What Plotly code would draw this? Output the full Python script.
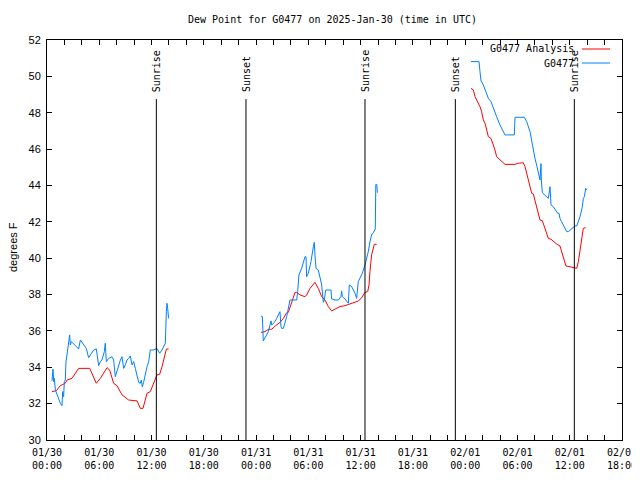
import plotly.graph_objects as go
import pandas as pd

BASE = pd.Timestamp("2025-01-30 00:00")

# Analysis (red): hours since 2025-01-30 00:00 UTC, None = gap
analysis_hours = [
    0.57, 1.07, 1.53, 2.10, 2.30, 2.87, 3.63, 4.90, 5.66, 6.12, 6.89, 7.19, 7.65, 8.03, 8.61, 9.37,
    10.33, 10.71, 11.02, 11.48, 11.86, 12.62, 12.93, 13.20, 13.70, 13.96,
    None,
    24.56, 25.02, 25.41, 25.79, 26.25, 26.74, 27.13, 27.51, 27.70, 28.08, 28.47, 28.66, 29.04, 29.61,
    29.80, 30.19, 30.76, 31.14, 31.53, 31.91, 32.29, 32.67, 33.06, 33.63, 34.20, 34.78, 35.35, 35.73,
    36.12, 36.50, 36.81, 36.96, 37.07, 37.26, 37.57, 37.84,
    None,
    48.67, 48.94, 49.13, 49.32, 49.51, 49.70, 49.89, 50.08, 50.28, 50.47, 50.66, 50.96, 51.23, 51.42,
    51.61, 51.81, 52.19, 52.57, 53.72, 54.10, 54.67, 54.87, 55.06, 55.25, 55.44, 55.63, 55.82, 56.01,
    56.20, 56.40, 56.59, 56.86, 57.08, 57.35, 57.54, 57.85, 58.12, 58.50, 58.88, 59.07, 59.27, 59.57,
    60.03, 60.41, 60.80, 60.99, 61.18, 61.37, 61.56, 61.83,
]
analysis_vals = [
    32.66, 32.71, 32.99, 33.12, 33.30, 33.39, 33.94, 33.94, 33.12, 33.39, 33.98, 33.85, 33.12, 32.99, 32.48, 32.20,
    32.15, 31.74, 31.74, 32.57, 32.66, 33.58, 33.61, 34.03, 35.00, 35.00,
    None,
    35.92, 35.96, 36.09, 36.09, 36.29, 36.47, 36.69, 37.00, 37.02, 37.61, 38.12, 38.12, 37.98, 37.88,
    37.98, 38.34, 38.67, 38.34, 37.88, 37.70, 37.34, 37.10, 37.21, 37.34, 37.39, 37.48, 37.61, 37.64,
    37.83, 38.12, 38.16, 38.53, 39.26, 40.18, 40.76, 40.76,
    None,
    49.34, 49.25, 48.88, 48.70, 48.43, 48.33, 48.06, 47.60, 47.42, 47.05, 46.68, 46.59, 46.23, 45.95,
    45.58, 45.49, 45.35, 45.16, 45.16, 45.22, 45.25, 45.03, 44.67, 44.30, 43.84, 43.57, 43.53, 43.20,
    42.74, 42.38, 42.10, 42.06, 41.73, 41.37, 41.09, 41.04, 40.91, 40.78, 40.67, 40.36, 39.99, 39.57,
    39.53, 39.50, 39.44, 39.81, 40.45, 41.18, 41.64, 41.68,
]

# Observations (blue)
obs_hours = [
    0.57, 0.69, 0.77, 0.84, 0.96, 1.15, 1.34, 1.53, 1.72, 1.80, 1.91, 1.99, 2.10, 2.18, 2.37, 2.49,
    2.60, 2.68, 2.79, 2.98, 3.25, 3.63, 3.83, 4.21, 4.51, 4.78, 4.97, 5.36, 5.66, 5.93, 6.12, 6.31,
    6.58, 6.69, 6.81, 7.08, 7.46, 7.65, 7.84, 8.03, 8.22, 8.42, 8.61, 8.80, 8.99, 9.18, 9.37, 9.56,
    9.76, 9.95, 10.14, 10.33, 10.52, 10.71, 10.83, 10.94, 11.09, 11.48, 11.67, 11.86, 12.24, 12.62,
    12.93, 13.20, 13.58, 13.70, 13.77, 13.85, 13.96,
    None,
    24.56, 24.72, 24.83, 25.02, 25.41, 25.60, 25.71, 25.79, 25.98, 26.17, 26.36, 26.55, 26.74, 26.86,
    26.94, 27.13, 27.51, 27.89, 28.27, 28.66, 28.77, 28.92, 29.23, 29.61, 29.73, 29.80, 29.99, 30.30,
    30.57, 30.68, 30.76, 30.88, 31.14, 31.34, 31.53, 31.72, 31.83, 31.99, 32.29, 32.60, 32.67, 33.06,
    33.44, 33.74, 33.82, 33.90, 34.20, 34.59, 34.70, 34.97, 35.35, 35.54, 35.73, 35.93, 36.19, 36.50,
    36.88, 37.07, 37.26, 37.45, 37.68, 37.74, 37.86, 37.92,
    None,
    48.67, 49.59, 49.70, 49.82, 50.08, 50.28, 50.47, 50.66, 50.96, 51.23, 51.61, 51.99, 52.26, 52.57,
    53.64, 53.72, 54.79, 55.06, 55.44, 55.63, 55.82, 56.01, 56.20, 56.40, 56.47, 56.59, 56.70, 56.74,
    56.86, 57.16, 57.54, 57.74, 57.85, 58.12, 58.39, 58.62, 58.77, 58.88, 59.07, 59.46, 59.65, 59.84,
    60.22, 60.60, 60.80, 61.18, 61.45, 61.56, 61.68, 61.83, 61.94,
]
obs_vals = [
    33.25, 33.90, 33.21, 33.39, 32.75, 32.48, 32.29, 32.02, 31.89, 32.66, 32.38, 33.21, 33.30, 34.31, 34.95, 35.41,
    35.78, 35.23, 35.41, 35.32, 35.19, 35.01, 35.50, 35.23, 35.04, 34.53, 34.68, 34.95, 35.01, 34.09, 34.31, 34.40,
    34.86, 35.32, 34.31, 34.49, 34.58, 34.40, 33.48, 33.80, 34.03, 34.40, 34.58, 33.94, 34.13, 34.40, 34.49, 34.62,
    34.13, 34.31, 33.94, 33.58, 33.17, 33.12, 33.30, 32.93, 33.17, 34.03, 34.31, 34.95, 34.95, 35.04,
    34.77, 34.95, 35.32, 37.06, 37.52, 37.24, 36.69,
    None,
    36.82, 36.78, 35.45, 35.63, 35.96, 36.33, 36.55, 36.33, 36.42, 36.51, 36.69, 36.88, 37.06, 36.23,
    36.14, 36.14, 36.78, 37.70, 37.70, 37.70, 38.16, 39.08, 39.44, 40.08, 40.08, 38.98, 39.17, 39.81,
    40.63, 40.87, 40.18, 39.44, 39.35, 38.98, 38.53, 37.57, 37.70, 38.25, 38.25, 38.25, 37.76, 37.70,
    37.70, 37.88, 38.20, 37.88, 37.76, 37.52, 38.53, 38.44, 38.07, 37.79, 38.71, 38.89, 39.17, 39.63,
    40.36, 40.91, 41.28, 41.40, 41.60, 44.05, 44.05, 43.60,
    None,
    50.81, 50.81, 50.26, 49.75, 49.53, 49.25, 48.98, 48.79, 48.61, 48.24, 47.78, 47.33, 47.05, 46.78,
    46.78, 47.75, 47.75, 47.51, 46.96, 46.41, 45.86, 45.49, 45.13, 44.76, 44.67, 44.30, 45.20, 44.30,
    43.60, 43.48, 43.29, 43.93, 42.93, 42.83, 42.65, 42.47, 42.47, 42.19, 42.01, 41.64, 41.46, 41.46,
    41.64, 41.77, 41.77, 42.28, 42.83, 43.29, 43.38, 43.84, 43.75,
]

sun_hours = [12.55, 22.84, 36.50, 46.87, 60.53]
sun_labels = ["Sunrise", "Sunset", "Sunrise", "Sunset", "Sunrise"]

tick_hours = list(range(0, 67, 2))
title_text = "Dew Point for G0477 on 2025-Jan-30 (time in UTC)"
series_names = ["G0477 Analysis", "G0477"]
series_colors = ["#ff0000", "#0080ff"]

MONO = "DejaVu Sans Mono"
SANS = "Liberation Sans"


def to_time(hs):
    return [None if h is None else BASE + pd.Timedelta(hours=h) for h in hs]


fig = go.Figure()
fig.add_trace(go.Scatter(x=to_time(analysis_hours), y=analysis_vals, mode="lines",
                         line=dict(color=series_colors[0], width=1), connectgaps=False,
                         name=series_names[0], showlegend=False))
fig.add_trace(go.Scatter(x=to_time(obs_hours), y=obs_vals, mode="lines",
                         line=dict(color=series_colors[1], width=1), connectgaps=False,
                         name=series_names[1], showlegend=False))

tickvals = to_time(tick_hours)
ticktext = []
for h in tick_hours:
    if h % 6 == 0:
        t = BASE + pd.Timedelta(hours=h)
        ticktext.append(t.strftime("%m/%d") + "<br>" + t.strftime("%H:%M"))
    else:
        ticktext.append("")

# page offset introduced by the default body margin
OFF = 8
# desired plot area in page pixels
PL, PR, PT, PB = 47, 622, 40, 440
FW, FH = 640 - OFF, 480 - 2 * OFF
PW, PH = PR - PL, PB - PT


def px(xp):
    return (xp - PL) / PW


def py(yp):
    return (PB - yp) / PH


shapes = []
annotations = []
for h, lab in zip(sun_hours, sun_labels):
    t = BASE + pd.Timedelta(hours=h)
    shapes.append(dict(type="line", xref="x", yref="y", x0=t, x1=t, y0=30, y1=48.75,
                       line=dict(color="black", width=1)))
    annotations.append(dict(x=t, y=py(94), xref="x", yref="paper", text=lab, textangle=-90,
                            showarrow=False, xanchor="center", yanchor="bottom",
                            font=dict(family=MONO, size=10, color="black")))

# legend (gnuplot style: text then sample)
for i, (nm, col) in enumerate(zip(series_names, series_colors)):
    yp = 49 + 14 * i
    annotations.append(dict(x=px(576), y=py(yp), xref="paper", yref="paper", text=nm,
                            showarrow=False, xanchor="right", yanchor="middle",
                            font=dict(family=MONO, size=10, color="black")))
    shapes.append(dict(type="line", xref="paper", yref="paper", x0=px(582), x1=px(610),
                       y0=py(yp), y1=py(yp), line=dict(color=col, width=1)))

annotations.append(dict(x=px(332.5), y=py(20), xref="paper", yref="paper", text=title_text,
                        showarrow=False, xanchor="center", yanchor="middle",
                        font=dict(family=MONO, size=10, color="black")))
annotations.append(dict(x=px(13), y=py(247), xref="paper", yref="paper", text="degrees F",
                        textangle=-90, showarrow=False, xanchor="center", yanchor="middle",
                        font=dict(family=SANS, size=11, color="black")))

fig.update_layout(
    width=FW, height=FH,
    margin=dict(l=PL - OFF, r=640 - PR, t=PT - OFF, b=FH + OFF - PB, pad=0, autoexpand=False),
    paper_bgcolor="white", plot_bgcolor="white",
    showlegend=False,
    shapes=shapes, annotations=annotations,
    xaxis=dict(type="date", range=[BASE, BASE + pd.Timedelta(hours=66)],
               tickmode="array", tickvals=tickvals, ticktext=ticktext,
               ticks="inside", ticklen=5, tickcolor="black", tickwidth=1,
               showline=True, linecolor="black", linewidth=1, mirror="allticks",
               showgrid=False, zeroline=False, automargin=False, ticklabelstandoff=3,
               ticklabeloverflow="allow",
               tickfont=dict(family=MONO, size=10, color="black")),
    yaxis=dict(range=[30, 52], tickmode="linear", tick0=30, dtick=2,
               ticks="inside", ticklen=5, tickcolor="black", tickwidth=1,
               showline=True, linecolor="black", linewidth=1, mirror="allticks",
               showgrid=False, zeroline=False, automargin=False, ticklabelstandoff=3,
               tickfont=dict(family=SANS, size=11, color="black")),
)

fig.write_html("out.html")
